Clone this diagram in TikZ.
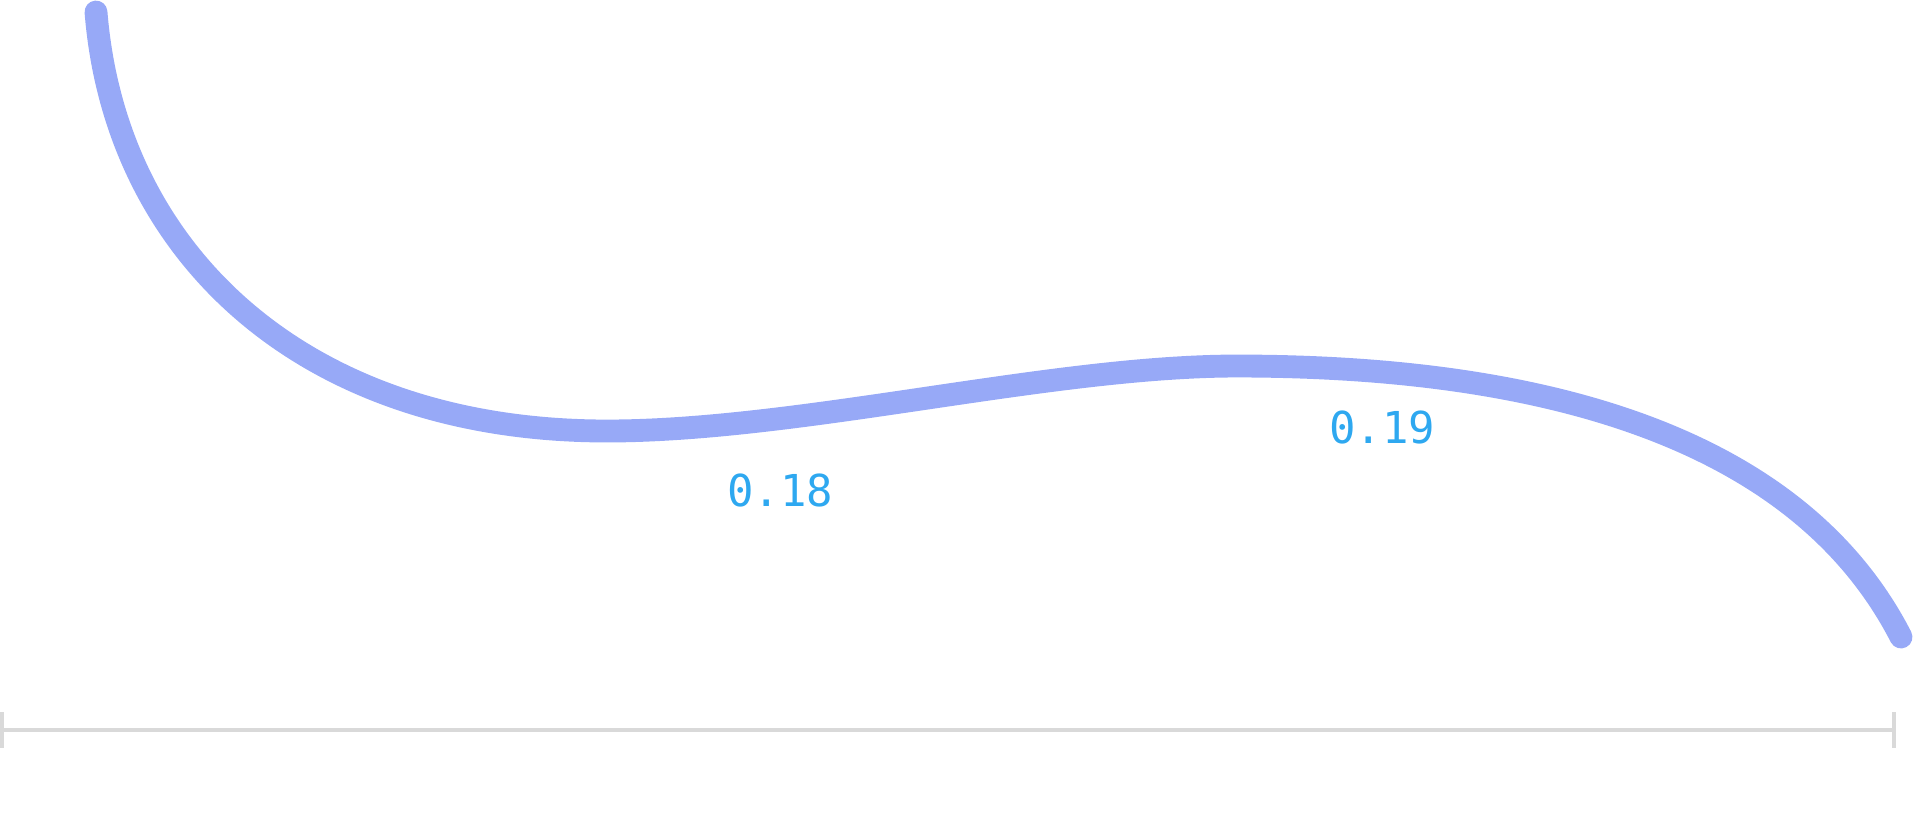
\documentclass[tikz,border=0pt]{standalone}
\usepackage{fontspec}
\newfontfamily\labelfont{DejaVu Sans Mono}
\definecolor{curveblue}{HTML}{97A9F7}
\definecolor{labelblue}{HTML}{2EA8F0}
\definecolor{rulergray}{HTML}{D9D9D9}
\tikzset{
	curve/.style={draw=curveblue, line width=6.5pt, line cap=round},
	ruler/.style={draw=rulergray, line width=1.1pt},
	value/.style={text=labelblue, font=\labelfont\fontsize{12.5}{14}\selectfont, inner sep=0pt}
}
\begin{document}
\begin{tikzpicture}[x=0.01cm,y=-0.01cm]
\useasboundingbox (0,0) rectangle (1914,832);
%curve
\draw[curve] (96,12) .. controls (115,250) and (300,431) .. (607,431)
	.. controls (800,431) and (1050,366) .. (1237,366)
	.. controls (1550,366) and (1800,440) .. (1901,637);
% labels
\node[value] (v1) at (780,490) {0.18};
\node[value] (v2) at (1382,427) {0.19};
%ruler
\draw[ruler]
	(2,730)--(1894,730)
	(2,712)--(2,748)
	(1894,712)--(1894,748)
	;
\end{tikzpicture}
\end{document}
